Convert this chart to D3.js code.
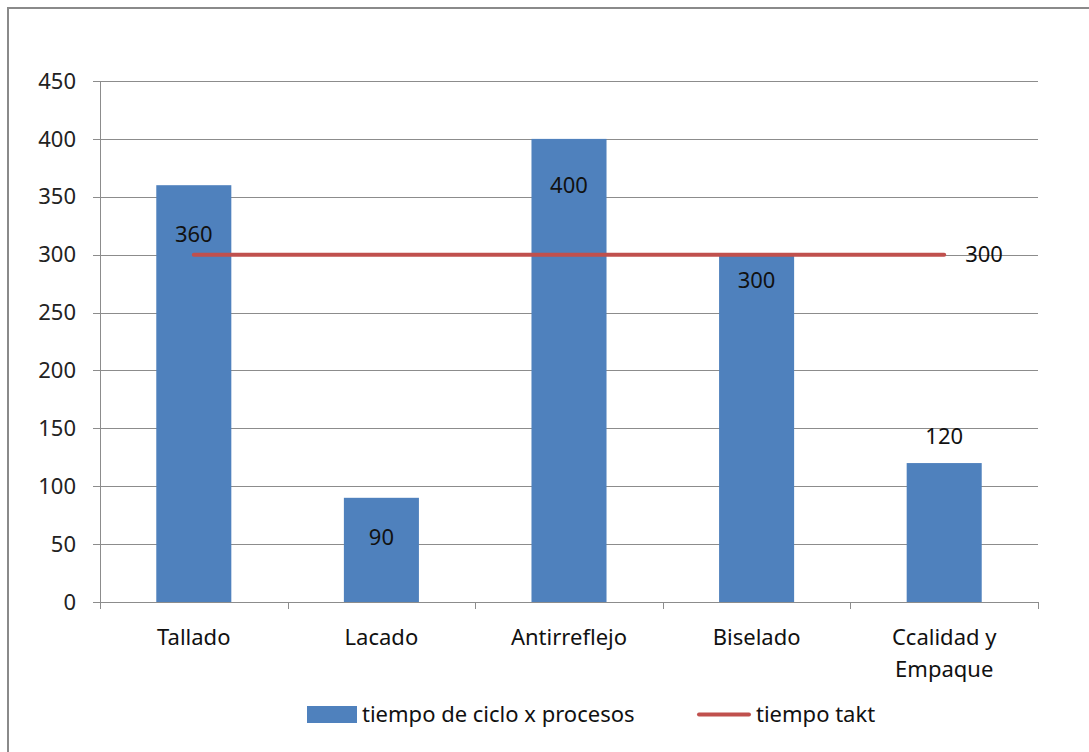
<!DOCTYPE html>
<html>
<head>
<meta charset="utf-8">
<script src="https://cdn.jsdelivr.net/npm/d3@7"></script>
<style>
  body { margin: 0; background: #fff; }
  svg { display: block; font-family: "Noto Sans", sans-serif; }
</style>
</head>
<body>
<div id="chart"></div>
<script>
// Chart data
const categories = ["Tallado", "Lacado", "Antirreflejo", "Biselado", "Ccalidad y\nEmpaque"];
const cycleTimes = [360, 90, 400, 300, 120];
const taktTime = [300, 300, 300, 300, 300];
// where each bar label sits, in data units (labels were moved by hand in the original)
const labelAt = [318, 56, 360, 278, 143];
const yTicks = [0, 50, 100, 150, 200, 250, 300, 350, 400, 450];

const seriesNames = ["tiempo de ciclo x procesos", "tiempo takt"];
const BAR_COLOR = "#4F81BD";
const LINE_COLOR = "#C0504D";
const GRID_COLOR = "#8c8c8c";
const FONT_SIZE = 22;

const width = 1089, height = 752;
const margin = { left: 100, right: 51, top: 81, bottom: 150 };

const svg = d3.select("#chart").append("svg")
    .attr("width", width)
    .attr("height", height);

// chart frame (runs off the right / bottom edge like the screenshot)
svg.append("rect")
    .attr("x", 8).attr("y", 8)
    .attr("width", width + 20).attr("height", height + 20)
    .attr("fill", "none")
    .attr("stroke", "#8a8a8a")
    .attr("stroke-width", 2);

const x = d3.scaleBand()
    .domain(categories)
    .range([margin.left, width - margin.right])
    .paddingInner(0.6)
    .paddingOuter(0.3);

const y = d3.scaleLinear()
    .domain([0, 450])
    .range([height - margin.bottom, margin.top]);

// gridlines
svg.append("g")
    .selectAll("line")
    .data(yTicks)
    .enter()
    .append("line")
    .attr("x1", margin.left - 7)
    .attr("x2", width - margin.right)
    .attr("y1", d => Math.round(y(d)) + 0.5)
    .attr("y2", d => Math.round(y(d)) + 0.5)
    .attr("stroke", GRID_COLOR)
    .attr("stroke-width", 1);

// y axis line
svg.append("line")
    .attr("x1", margin.left + 0.5).attr("x2", margin.left + 0.5)
    .attr("y1", y(450)).attr("y2", y(0))
    .attr("stroke", GRID_COLOR);

// y tick labels
svg.append("g")
    .selectAll("text")
    .data(yTicks)
    .enter()
    .append("text")
    .attr("x", 76)
    .attr("y", d => y(d))
    .attr("dy", "0.35em")
    .attr("text-anchor", "end")
    .attr("font-size", FONT_SIZE)
    .attr("fill", "#222")
    .text(d => d);

// x axis category ticks
const catEdges = d3.range(categories.length + 1).map(i => margin.left + i * (width - margin.right - margin.left) / categories.length);
svg.append("g")
    .selectAll("line")
    .data(catEdges)
    .enter()
    .append("line")
    .attr("x1", d => Math.round(d) + 0.5)
    .attr("x2", d => Math.round(d) + 0.5)
    .attr("y1", y(0))
    .attr("y2", y(0) + 7)
    .attr("stroke", GRID_COLOR);

// bars
svg.append("g")
    .selectAll("rect")
    .data(cycleTimes)
    .enter()
    .append("rect")
    .attr("x", (d, i) => x(categories[i]))
    .attr("width", x.bandwidth())
    .attr("y", d => y(d))
    .attr("height", d => y(0) - y(d))
    .attr("fill", BAR_COLOR);

// takt line
const cx = (d, i) => x(categories[i]) + x.bandwidth() / 2;
const line = d3.line()
    .x(cx)
    .y(d => y(d));

svg.append("path")
    .datum(taktTime)
    .attr("d", line)
    .attr("fill", "none")
    .attr("stroke", LINE_COLOR)
    .attr("stroke-width", 4)
    .attr("stroke-linecap", "round");

// bar labels
svg.append("g")
    .selectAll("text")
    .data(cycleTimes)
    .enter()
    .append("text")
    .attr("x", cx)
    .attr("y", (d, i) => y(labelAt[i]))
    .attr("dy", "0.35em")
    .attr("text-anchor", "middle")
    .attr("font-size", FONT_SIZE)
    .attr("fill", "#111")
    .text(d => d);

// takt label, right of the last point
const lastIdx = taktTime.length - 1;
svg.append("text")
    .attr("x", cx(taktTime[lastIdx], lastIdx) + 21)
    .attr("y", y(taktTime[lastIdx]))
    .attr("dy", "0.35em")
    .attr("font-size", FONT_SIZE)
    .attr("fill", "#111")
    .text(taktTime[lastIdx]);

// category labels
const catLabels = svg.append("g")
    .selectAll("text")
    .data(categories)
    .enter()
    .append("text")
    .attr("x", d => x(d) + x.bandwidth() / 2)
    .attr("y", 637)
    .attr("text-anchor", "middle")
    .attr("font-size", FONT_SIZE)
    .attr("fill", "#111");

catLabels.each(function(d) {
    const parts = d.split("\n");
    d3.select(this).selectAll("tspan")
        .data(parts)
        .enter()
        .append("tspan")
        .attr("x", x(d) + x.bandwidth() / 2)
        .attr("dy", (p, i) => i === 0 ? "0.35em" : "1.45em")
        .text(p => p);
});

// legend
const legend = svg.append("g");
legend.append("rect")
    .attr("x", 307).attr("y", 706)
    .attr("width", 50).attr("height", 17)
    .attr("fill", BAR_COLOR);
legend.append("text")
    .attr("x", 362).attr("y", 714)
    .attr("dy", "0.35em")
    .attr("font-size", FONT_SIZE)
    .attr("fill", "#111")
    .text(seriesNames[0]);
legend.append("line")
    .attr("x1", 699).attr("x2", 749)
    .attr("y1", 714.5).attr("y2", 714.5)
    .attr("stroke", LINE_COLOR)
    .attr("stroke-width", 4)
    .attr("stroke-linecap", "round");
legend.append("text")
    .attr("x", 756).attr("y", 714)
    .attr("dy", "0.35em")
    .attr("font-size", FONT_SIZE)
    .attr("fill", "#111")
    .text(seriesNames[1]);
</script>
</body>
</html>
